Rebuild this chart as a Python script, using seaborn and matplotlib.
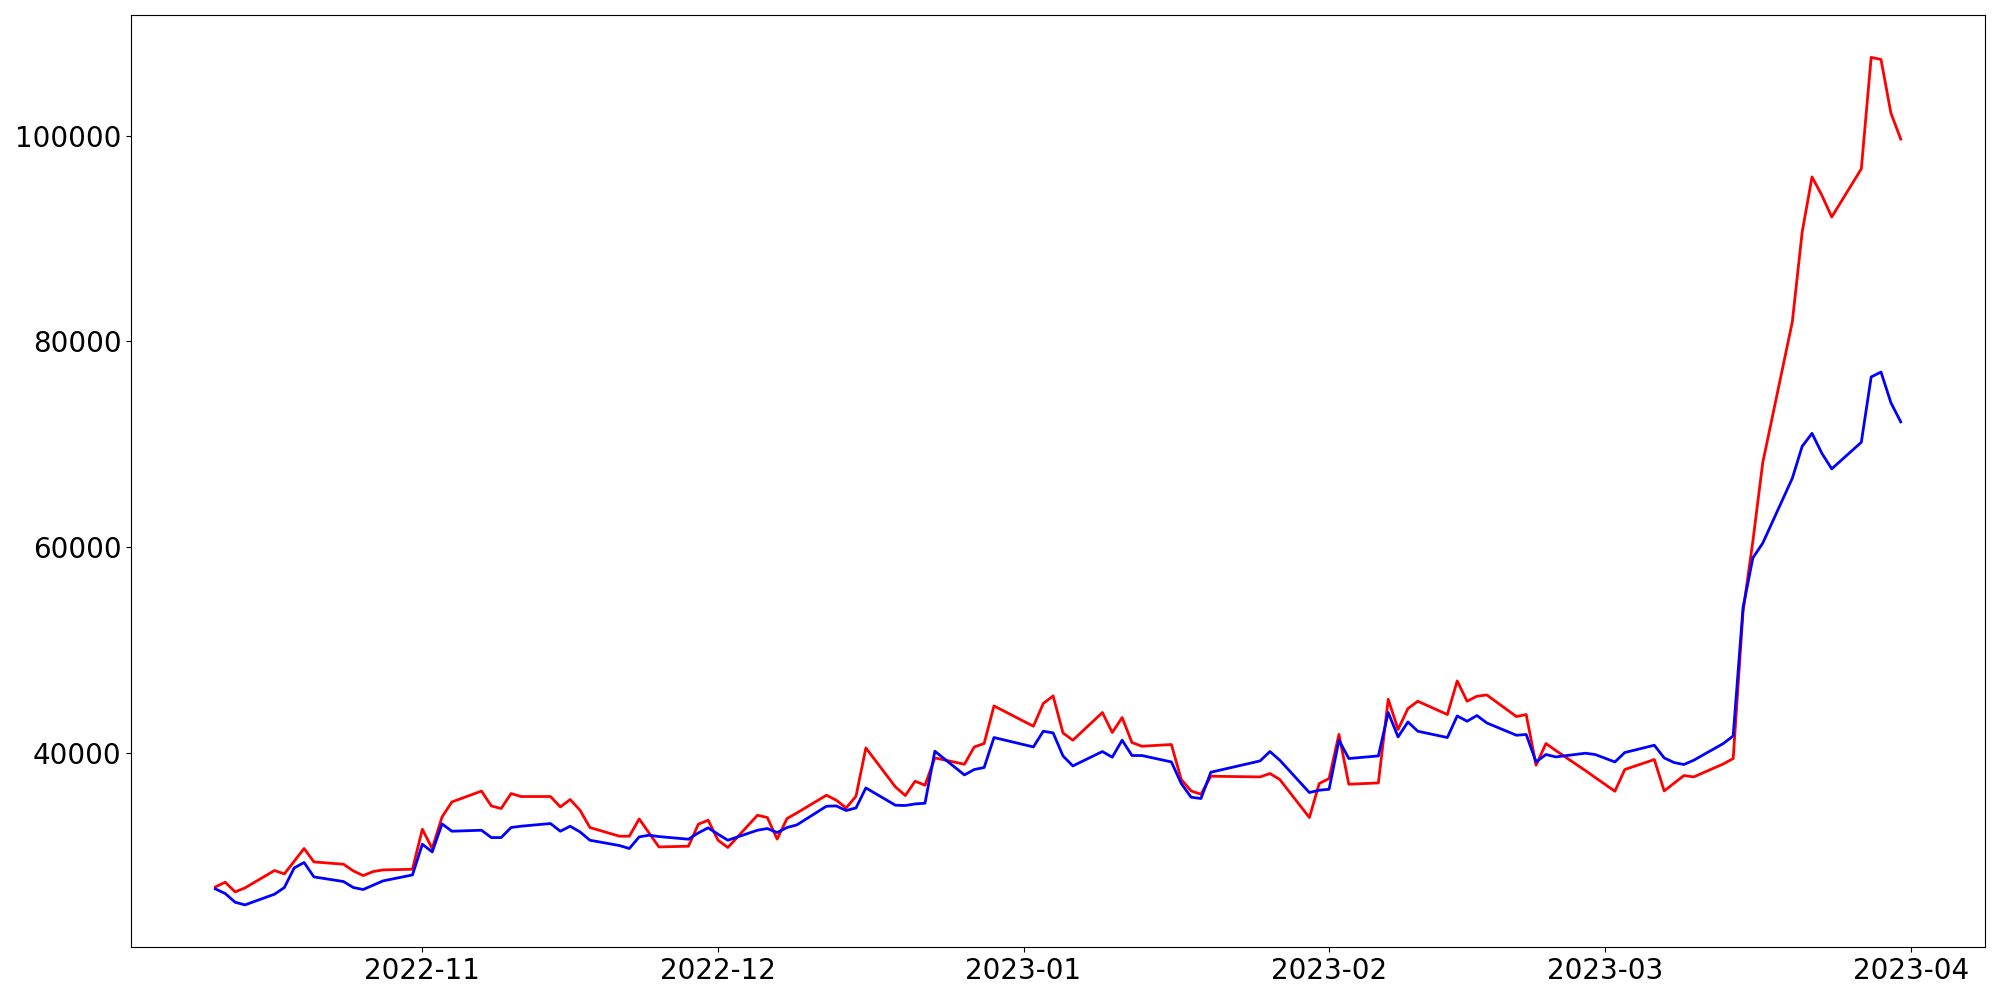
import matplotlib
matplotlib.use("Agg")
import matplotlib.pyplot as plt
import numpy as np
import pandas as pd
import seaborn as sns

# trading days (KRX calendar: Dec 30, Jan 23-24 and Mar 1 closed)
HOLIDAYS = ["2022-12-30", "2023-01-23", "2023-01-24", "2023-03-01"]
dates = pd.bdate_range("2022-10-11", "2023-03-31")
dates = dates[~dates.isin(pd.to_datetime(HOLIDAYS))]

red_values = [
    26949, 27406, 26463, 26852,
    28544, 28213, 29450, 30683, 29380,
    29157, 28505, 28052, 28440, 28602,
    28670, 32560, 30683, 33757, 35215,
    36270, 34826, 34573, 36032, 35740,
    35740, 34729, 35449, 34408, 32726,
    31880, 31880, 33562, 32201, 30839,
    30907, 33046, 33436, 31491, 30781,
    33922, 33698, 31600, 33600, 34146,
    35867, 35381, 34632, 35770, 40467,
    36674, 35838, 37228, 36839, 39494,
    38882, 40564, 40895, 44551,
    42577, 44785, 45524, 41926, 41216,
    43909, 41964, 43423, 40992, 40632,
    40797, 37394, 36285, 35964, 37715,
    37647, 37977, 37394,
    33698, 37005, 37491, 41785, 36937,
    37063, 45203, 42256, 44298, 45008,
    43715, 46983, 45008, 45494, 45621,
    43520, 43715, 38784, 40895, 40214,
    38269, 37588, 36256, 38366,
    39339, 36285, 37034, 37783, 37647,
    38911, 39436, 53722, 60588, 68213,
    81905, 90640, 95997, 94208, 92106,
    96786, 107628, 107424, 102221, 99682,
]

blue_values = [
    26755, 26307, 25461, 25200,
    26239, 26890, 28797, 29322, 27922,
    27474, 26890, 26696, 27114, 27532,
    28116, 31102, 30353, 33076, 32366,
    32463, 31749, 31749, 32726, 32852,
    33115, 32366, 32852, 32298, 31491,
    30973, 30683, 31814, 31977, 31847,
    31589, 32201, 32694, 32074, 31491,
    32463, 32628, 32239, 32726, 32979,
    34797, 34826, 34379, 34632, 36577,
    34894, 34865, 35021, 35089, 40146,
    37841, 38366, 38561, 41478,
    40564, 42091, 41926, 39689, 38716,
    40117, 39562, 41216, 39728, 39728,
    39105, 37005, 35673, 35546, 38104,
    39203, 40117, 39271,
    36129, 36353, 36450, 41216, 39436,
    39689, 43909, 41537, 42995, 42091,
    41478, 43579, 43063, 43618, 42898,
    41702, 41770, 39105, 39825, 39592,
    39951, 39825, 39105, 40019,
    40729, 39494, 39047, 38852, 39271,
    40895, 41634, 54121, 58954, 60384,
    66695, 69797, 71062, 69117, 67609,
    70196, 76547, 77023, 74047, 72180,
]

df = pd.DataFrame({"date": dates, "red": red_values, "blue": blue_values})

fig, ax = plt.subplots(figsize=(20, 10))

sns.lineplot(data=df, x="date", y="red", ax=ax, color="red", linewidth=2)
sns.lineplot(data=df, x="date", y="blue", ax=ax, color="blue", linewidth=2)

ax.set_xlabel("")
ax.set_ylabel("")
ax.tick_params(axis="both", labelsize=20)

plt.tight_layout()
plt.savefig("out.png", dpi=100)
plt.close()
